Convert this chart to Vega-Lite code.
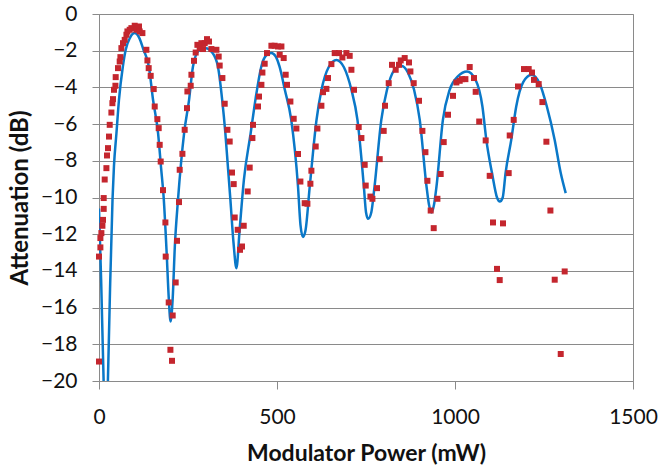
{
  "$schema": "https://vega.github.io/schema/vega-lite/v6.json",
  "width": 534,
  "height": 367,
  "autosize": {"type": "none"},
  "padding": {"left": 99, "top": 14, "right": 28, "bottom": 86},
  "background": "white",
  "config": {
    "font": "Lato",
    "view": {"stroke": "#8a8a8a", "strokeWidth": 1},
    "axis": {
      "labelFont": "Lato",
      "titleFont": "Lato",
      "labelFontSize": 21,
      "labelColor": "#111111",
      "titleFontSize": 24,
      "titleFontWeight": "bold",
      "titleColor": "#111111",
      "domainColor": "#8a8a8a",
      "tickColor": "#8a8a8a",
      "gridColor": "#8a8a8a",
      "gridWidth": 1
    }
  },
  "datasets": {
    "model": [
      {"power": 0, "att": -10.6},
      {"power": 6, "att": -14.5},
      {"power": 13, "att": -20},
      {"power": 17, "att": -24},
      {"power": 21, "att": -24},
      {"power": 25, "att": -20},
      {"power": 31, "att": -15},
      {"power": 38, "att": -10.1},
      {"power": 42, "att": -8.3},
      {"power": 49, "att": -6.5},
      {"power": 56, "att": -4.7},
      {"power": 67, "att": -2.86},
      {"power": 75, "att": -1.95},
      {"power": 87, "att": -1.3},
      {"power": 100, "att": -1.04},
      {"power": 113, "att": -1.3},
      {"power": 125, "att": -1.95},
      {"power": 140, "att": -2.86},
      {"power": 152, "att": -4.7},
      {"power": 166, "att": -6.5},
      {"power": 174, "att": -8.3},
      {"power": 182, "att": -10.1},
      {"power": 190, "att": -13},
      {"power": 196, "att": -15.5},
      {"power": 201, "att": -16.76},
      {"power": 207, "att": -15.5},
      {"power": 213, "att": -12.67},
      {"power": 222, "att": -10.1},
      {"power": 239, "att": -6.5},
      {"power": 253, "att": -4.68},
      {"power": 264, "att": -2.86},
      {"power": 280, "att": -2.0},
      {"power": 300, "att": -1.86},
      {"power": 318, "att": -2.1},
      {"power": 334, "att": -2.86},
      {"power": 346, "att": -4.68},
      {"power": 355, "att": -6.5},
      {"power": 362, "att": -8.3},
      {"power": 369, "att": -10.1},
      {"power": 378, "att": -12.5},
      {"power": 386, "att": -13.85},
      {"power": 395, "att": -11.76},
      {"power": 407, "att": -9.04},
      {"power": 426, "att": -6.5},
      {"power": 440, "att": -4.6},
      {"power": 456, "att": -2.86},
      {"power": 470, "att": -2.25},
      {"power": 484, "att": -2.13},
      {"power": 496, "att": -2.3},
      {"power": 507, "att": -2.86},
      {"power": 522, "att": -4.13},
      {"power": 540, "att": -5.77},
      {"power": 559, "att": -9.4},
      {"power": 566, "att": -11.5},
      {"power": 573, "att": -12.15},
      {"power": 580, "att": -11.8},
      {"power": 592, "att": -9.4},
      {"power": 611, "att": -5.77},
      {"power": 625, "att": -4.13},
      {"power": 645, "att": -2.9},
      {"power": 667, "att": -2.5},
      {"power": 688, "att": -2.9},
      {"power": 709, "att": -4.13},
      {"power": 726, "att": -5.77},
      {"power": 744, "att": -9.4},
      {"power": 750, "att": -10.8},
      {"power": 756, "att": -11.16},
      {"power": 765, "att": -10.8},
      {"power": 774, "att": -9.4},
      {"power": 793, "att": -5.77},
      {"power": 809, "att": -4.13},
      {"power": 828, "att": -3.1},
      {"power": 849, "att": -2.82},
      {"power": 868, "att": -3.2},
      {"power": 885, "att": -4.13},
      {"power": 901, "att": -5.77},
      {"power": 920, "att": -9.4},
      {"power": 927, "att": -10.4},
      {"power": 934, "att": -10.82},
      {"power": 941, "att": -10.4},
      {"power": 948, "att": -9.4},
      {"power": 966, "att": -5.77},
      {"power": 985, "att": -4.13},
      {"power": 1008, "att": -3.4},
      {"power": 1034, "att": -3.13},
      {"power": 1058, "att": -3.6},
      {"power": 1077, "att": -5.04},
      {"power": 1088, "att": -6.86},
      {"power": 1104, "att": -8.67},
      {"power": 1118, "att": -10.0},
      {"power": 1126, "att": -10.22},
      {"power": 1134, "att": -10.0},
      {"power": 1142, "att": -8.67},
      {"power": 1158, "att": -6.86},
      {"power": 1172, "att": -5.04},
      {"power": 1192, "att": -3.7},
      {"power": 1215, "att": -3.31},
      {"power": 1238, "att": -3.8},
      {"power": 1258, "att": -5.04},
      {"power": 1280, "att": -6.86},
      {"power": 1297, "att": -8.67},
      {"power": 1311, "att": -9.76}
    ],
    "meas": [
      {"power": 0, "att": -18.94},
      {"power": 0, "att": -13.22},
      {"power": 3.9, "att": -12.72},
      {"power": 3.9, "att": -12.21},
      {"power": 6.7, "att": -11.94},
      {"power": 9.6, "att": -11.54},
      {"power": 11.2, "att": -11.22},
      {"power": 13.2, "att": -10.62},
      {"power": 13.2, "att": -10.03},
      {"power": 16, "att": -9.02},
      {"power": 20.8, "att": -8.4},
      {"power": 22.5, "att": -7.71},
      {"power": 25.3, "att": -7.31},
      {"power": 28.1, "att": -6.68},
      {"power": 30.1, "att": -6.04},
      {"power": 34.8, "att": -5.37},
      {"power": 37.6, "att": -4.86},
      {"power": 39.3, "att": -4.64},
      {"power": 42.1, "att": -4.13},
      {"power": 46.1, "att": -3.91},
      {"power": 46.9, "att": -3.44},
      {"power": 53.4, "att": -2.95},
      {"power": 58.1, "att": -2.59},
      {"power": 60.1, "att": -2.35},
      {"power": 62.9, "att": -1.86},
      {"power": 67.4, "att": -1.59},
      {"power": 72.2, "att": -1.41},
      {"power": 77, "att": -1.13},
      {"power": 79.8, "att": -0.95},
      {"power": 86.2, "att": -0.86},
      {"power": 91, "att": -0.77},
      {"power": 100.3, "att": -0.64},
      {"power": 105.1, "att": -0.86},
      {"power": 112.4, "att": -0.68},
      {"power": 114.3, "att": -0.95},
      {"power": 121.9, "att": -1.04},
      {"power": 133.1, "att": -1.95},
      {"power": 136, "att": -2.53},
      {"power": 139.6, "att": -2.95},
      {"power": 145.2, "att": -3.37},
      {"power": 153.7, "att": -4.09},
      {"power": 156.5, "att": -5.04},
      {"power": 164, "att": -5.73},
      {"power": 167.7, "att": -6.22},
      {"power": 170.5, "att": -7.13},
      {"power": 173.3, "att": -8.04},
      {"power": 179.8, "att": -9.6},
      {"power": 186.5, "att": -11.36},
      {"power": 187.4, "att": -13.22},
      {"power": 195.8, "att": -15.72},
      {"power": 207, "att": -16.43},
      {"power": 200.6, "att": -18.3},
      {"power": 205.1, "att": -18.9},
      {"power": 215.4, "att": -14.63},
      {"power": 219.1, "att": -12.36},
      {"power": 224.7, "att": -10.25},
      {"power": 226.7, "att": -8.49},
      {"power": 234.3, "att": -7.62},
      {"power": 240.7, "att": -6.31},
      {"power": 247.2, "att": -5.13},
      {"power": 248.3, "att": -4.22},
      {"power": 257.6, "att": -3.91},
      {"power": 259.6, "att": -3.31},
      {"power": 266.9, "att": -2.55},
      {"power": 271.6, "att": -2.1},
      {"power": 276.4, "att": -1.68},
      {"power": 282.9, "att": -1.86},
      {"power": 287.6, "att": -1.59},
      {"power": 292.1, "att": -1.91},
      {"power": 296.9, "att": -1.59},
      {"power": 303.4, "att": -1.37},
      {"power": 309, "att": -1.5},
      {"power": 315.7, "att": -1.91},
      {"power": 329.8, "att": -1.95},
      {"power": 336.2, "att": -2.32},
      {"power": 339, "att": -2.81},
      {"power": 346.6, "att": -3.49},
      {"power": 353.1, "att": -4.89},
      {"power": 360.7, "att": -6.31},
      {"power": 367.1, "att": -6.95},
      {"power": 373.6, "att": -8.64},
      {"power": 378.4, "att": -9.27},
      {"power": 381.2, "att": -11.09},
      {"power": 389.6, "att": -11.76},
      {"power": 396.1, "att": -12.85},
      {"power": 401.7, "att": -12.67},
      {"power": 406.5, "att": -11.54},
      {"power": 417.7, "att": -9.67},
      {"power": 423.3, "att": -8.37},
      {"power": 430.9, "att": -6.76},
      {"power": 432.6, "att": -6.04},
      {"power": 446.6, "att": -5.04},
      {"power": 449.4, "att": -4.5},
      {"power": 456.2, "att": -3.86},
      {"power": 459, "att": -3.19},
      {"power": 465.4, "att": -2.71},
      {"power": 471.9, "att": -2.13},
      {"power": 484.3, "att": -1.73},
      {"power": 493.5, "att": -1.73},
      {"power": 502.8, "att": -1.77},
      {"power": 507.6, "att": -2.22},
      {"power": 512.4, "att": -1.77},
      {"power": 518.8, "att": -2.4},
      {"power": 524.4, "att": -3.31},
      {"power": 528.1, "att": -3.86},
      {"power": 537.6, "att": -4.77},
      {"power": 546.9, "att": -5.71},
      {"power": 554.5, "att": -6.24},
      {"power": 559, "att": -7.63},
      {"power": 565.7, "att": -9.13},
      {"power": 577.8, "att": -10.31},
      {"power": 585.4, "att": -10.34},
      {"power": 593.8, "att": -9.25},
      {"power": 596.6, "att": -8.54},
      {"power": 608.7, "att": -7.22},
      {"power": 613.5, "att": -6.24},
      {"power": 624.7, "att": -5.0},
      {"power": 629.2, "att": -4.26},
      {"power": 638.8, "att": -4.08},
      {"power": 643.3, "att": -3.49},
      {"power": 652.8, "att": -2.73},
      {"power": 662.1, "att": -2.13},
      {"power": 674.2, "att": -2.13},
      {"power": 683.7, "att": -2.37},
      {"power": 694.9, "att": -2.13},
      {"power": 704.2, "att": -2.28},
      {"power": 709, "att": -3.04},
      {"power": 716.3, "att": -4.13},
      {"power": 729.5, "att": -6.16},
      {"power": 737.1, "att": -6.76},
      {"power": 746.3, "att": -8.22},
      {"power": 749.2, "att": -9.35},
      {"power": 762.4, "att": -9.95},
      {"power": 768, "att": -10.07},
      {"power": 780.9, "att": -9.49},
      {"power": 788.5, "att": -7.91},
      {"power": 799.7, "att": -6.37},
      {"power": 803.4, "att": -5.0},
      {"power": 813.8, "att": -3.77},
      {"power": 823, "att": -2.77},
      {"power": 833.4, "att": -3.04},
      {"power": 842.7, "att": -2.77},
      {"power": 847.5, "att": -2.53},
      {"power": 858.7, "att": -2.4},
      {"power": 870.8, "att": -2.64},
      {"power": 874.7, "att": -3.13},
      {"power": 884, "att": -3.77},
      {"power": 898.9, "att": -4.73},
      {"power": 908.4, "att": -6.37},
      {"power": 916.9, "att": -7.53},
      {"power": 922.5, "att": -9.09},
      {"power": 931.7, "att": -10.71},
      {"power": 940.2, "att": -11.67},
      {"power": 950.6, "att": -10.07},
      {"power": 959.8, "att": -8.72},
      {"power": 968.3, "att": -6.98},
      {"power": 980.3, "att": -5.49},
      {"power": 994.4, "att": -4.46},
      {"power": 1003.9, "att": -3.73},
      {"power": 1013.2, "att": -3.64},
      {"power": 1019.7, "att": -3.55},
      {"power": 1029.2, "att": -3.55},
      {"power": 1041.3, "att": -2.89},
      {"power": 1053.4, "att": -3.49},
      {"power": 1058.1, "att": -4.24},
      {"power": 1068, "att": -5.86},
      {"power": 1086.2, "att": -6.89},
      {"power": 1097.5, "att": -8.82},
      {"power": 1106.7, "att": -11.36},
      {"power": 1118, "att": -13.89},
      {"power": 1125.6, "att": -14.5},
      {"power": 1134.8, "att": -11.41},
      {"power": 1150.8, "att": -8.67},
      {"power": 1153.7, "att": -6.62},
      {"power": 1164.9, "att": -5.77},
      {"power": 1177, "att": -3.95},
      {"power": 1193.8, "att": -3.0},
      {"power": 1207, "att": -3.0},
      {"power": 1216.3, "att": -3.19},
      {"power": 1221.9, "att": -3.59},
      {"power": 1235.1, "att": -3.82},
      {"power": 1245.5, "att": -4.8},
      {"power": 1256.7, "att": -6.96},
      {"power": 1268, "att": -10.71},
      {"power": 1280.1, "att": -14.48},
      {"power": 1297, "att": -18.53},
      {"power": 1308.1, "att": -14.03}
    ]
  },
  "encoding": {
    "x": {
      "field": "power",
      "type": "quantitative",
      "scale": {"domain": [0, 1500], "nice": false, "zero": false},
      "axis": {
        "title": "Modulator Power (mW)",
        "titleFontSize": 23,
        "values": [0, 500, 1000, 1500],
        "format": "d",
        "grid": false,
        "tickSize": 8,
        "labelPadding": 17,
        "titlePadding": 15,
        "labelFlush": false
      }
    },
    "y": {
      "field": "att",
      "type": "quantitative",
      "scale": {"domain": [-20, 0], "nice": false, "zero": false},
      "axis": {
        "title": "Attenuation (dB)",
        "values": [-20, -18, -16, -14, -12, -10, -8, -6, -4, -2, 0],
        "format": "d",
        "grid": true,
        "tickSize": 7,
        "labelPadding": 15,
        "titlePadding": 8,
        "labelFlush": false
      }
    }
  },
  "layer": [
    {
      "data": {"name": "model"},
      "mark": {"type": "line", "color": "#0a78c8", "strokeWidth": 2.5, "interpolate": "monotone", "clip": true}
    },
    {
      "data": {"name": "meas"},
      "mark": {"type": "point", "shape": "square", "filled": true, "size": 36, "color": "#c4262e", "opacity": 1}
    }
  ]
}
